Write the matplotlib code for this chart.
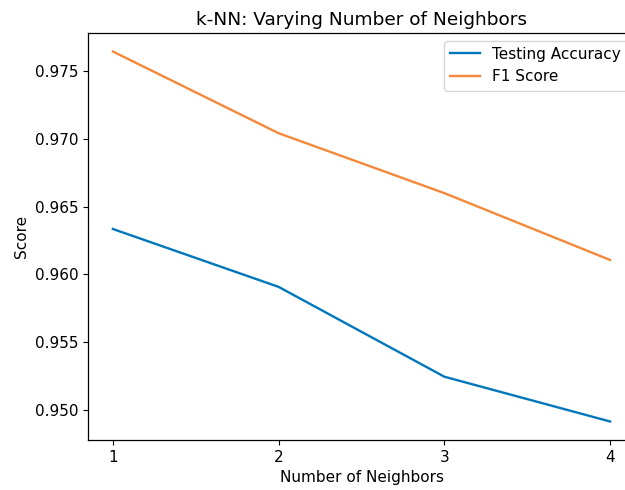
import matplotlib
matplotlib.use("Agg")
import matplotlib.pyplot as plt

neighbors = [1, 2, 3, 4]
test_acc = [0.96335, 0.95907, 0.95243, 0.94912]
f1_score = [0.97647, 0.97043, 0.96600, 0.96106]

plt.rcParams["font.size"] = 11
plt.rcParams["axes.linewidth"] = 0.9

fig = plt.figure(figsize=(6.25, 4.9), dpi=100)
ax = fig.add_axes([88 / 625, 50 / 490, 547 / 625, 407 / 490])

ax.plot(neighbors, test_acc, color="#0077BB", lw=1.7, label="Testing Accuracy")
ax.plot(neighbors, f1_score, color="#F5893A", lw=1.7, label="F1 Score")

ax.set_xticks(neighbors)
ax.set_title("k-NN: Varying Number of Neighbors", fontsize=13.3)
ax.set_xlabel("Number of Neighbors")
ax.set_ylabel("Score")
ax.legend(loc="upper right")

fig.savefig("out.png", dpi=100)
